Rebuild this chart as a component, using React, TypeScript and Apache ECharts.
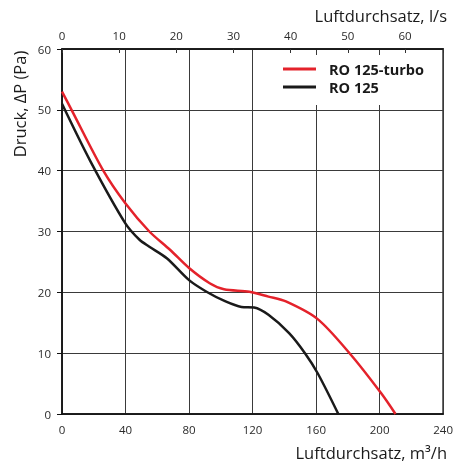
import React, { useEffect, useRef } from "react";
import * as echarts from "echarts";

const seriesNames = ["RO 125-turbo", "RO 125"];
// [Luftdurchsatz m³/h, Druck Pa]
const turboData: [number, number][] = [
  [0, 53], [6, 50], [26, 40], [40, 34.6], [55, 30], [68, 27], [80, 24],
  [93, 21.5], [102, 20.5], [118, 20.1], [130, 19.3], [141, 18.5], [161, 15.6],
  [182, 9.7], [201, 3.4], [210, 0],
];
const ro125Data: [number, number][] = [
  [0, 51], [18, 41.5], [40, 31.3], [49, 28.6], [55, 27.5], [66, 25.6], [80, 22],
  [91, 20.1], [103, 18.5], [113, 17.6], [121, 17.5], [130, 16.3], [143, 13.3],
  [153, 10], [161, 6.7], [174, 0],
];
const xMaxM3h = 240;
const xStepM3h = 40;
const xStepLs = 10;
const yMax = 60;
const yStep = 10;
const colors = ["#e4222b", "#1a1a1a"];

const FONT = "'Open Sans', 'DejaVu Sans', sans-serif";

export default function App() {
  const ref = useRef<HTMLDivElement>(null);
  useEffect(() => {
    if (!ref.current) return;
    const chart = echarts.init(ref.current, undefined, { renderer: "svg" });
    chart.setOption({
      animation: false,
      textStyle: { fontFamily: FONT },
      grid: {
        left: 62, top: 49, width: 383, height: 365,
        show: true, borderColor: "#111", borderWidth: 1.5,
      },
      legend: {
        orient: "vertical",
        left: 271, top: 55,
        padding: [6, 14, 10, 12],
        backgroundColor: "#fff",
        itemWidth: 33, itemHeight: 3, itemGap: 2,
        icon: "rect",
        data: seriesNames,
        textStyle: {
          fontFamily: FONT, fontSize: 14.5, fontWeight: "bold", color: "#1a1a1a",
          lineHeight: 16, padding: [0, 0, 0, 8],
        },
      },
      xAxis: [
        {
          type: "value", position: "bottom", min: 0, max: xMaxM3h, interval: xStepM3h,
          axisLine: { show: true, lineStyle: { color: "#111", width: 1.5 } },
          axisTick: { show: false },
          axisLabel: { color: "#2a2a2a", fontSize: 11.5, margin: 9, fontFamily: FONT },
          splitLine: { show: true, lineStyle: { color: "#3a3a3a", width: 1 } },
        },
        {
          type: "value", position: "top", min: 0, max: xMaxM3h / 3.6, interval: xStepLs,
          axisLine: { show: true, lineStyle: { color: "#111", width: 1.5 } },
          axisTick: { show: true, inside: true, length: 4, lineStyle: { color: "#333" } },
          axisLabel: {
            color: "#2a2a2a", fontSize: 11.5, margin: 8, fontFamily: FONT,
            formatter: (v: number) => (Math.abs(v / xStepLs - Math.round(v / xStepLs)) < 1e-6 ? String(Math.round(v)) : ""),
          },
          splitLine: { show: false },
        },
      ],
      yAxis: {
        type: "value", min: 0, max: yMax, interval: yStep,
        axisLine: { show: true, lineStyle: { color: "#111", width: 1.5 } },
        axisTick: { show: true, inside: false, length: 5, lineStyle: { color: "#111" } },
        axisLabel: { color: "#2a2a2a", fontSize: 11.5, margin: 11, fontFamily: FONT },
        splitLine: { show: true, lineStyle: { color: "#3a3a3a", width: 1 } },
      },
      series: [
        {
          name: seriesNames[0], type: "line", xAxisIndex: 0, data: turboData,
          smooth: 0.3, symbol: "none", lineStyle: { color: colors[0], width: 2.5 },
          itemStyle: { color: colors[0] },
        },
        {
          name: seriesNames[1], type: "line", xAxisIndex: 0, data: ro125Data,
          smooth: 0.3, symbol: "none", lineStyle: { color: colors[1], width: 2.5 },
          itemStyle: { color: colors[1] },
        },
      ],
      graphic: [
        {
          type: "text", x: 447, y: 15,
          style: { text: "Luftdurchsatz, l/s", align: "right", verticalAlign: "middle", font: `16.5px ${FONT}`, fill: "#1a1a1a" },
        },
        {
          type: "text", x: 447, y: 452,
          style: { text: "Luftdurchsatz, m³/h", align: "right", verticalAlign: "middle", font: `16.5px ${FONT}`, fill: "#1a1a1a" },
        },
        {
          type: "text", x: 19, y: 104, rotation: Math.PI / 2,
          style: { text: "Druck, ΔP (Pa)", align: "center", verticalAlign: "middle", font: `16.5px ${FONT}`, fill: "#1a1a1a" },
        },
      ],
    });
    return () => chart.dispose();
  }, []);
  return <div ref={ref} style={{ position: "fixed", left: 0, top: 0, width: 456, height: 466 }} />;
}
